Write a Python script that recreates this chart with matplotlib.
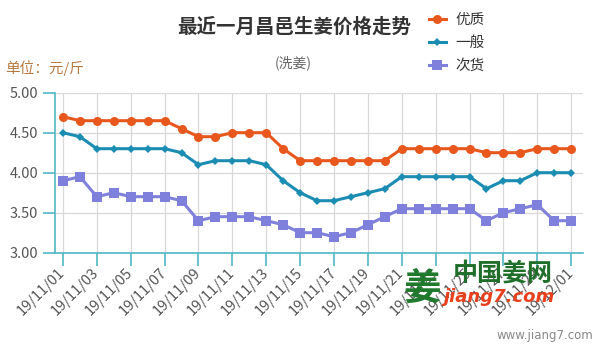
import numpy as np
import pandas as pd
import matplotlib
matplotlib.use('Agg')
import matplotlib.pyplot as plt
from matplotlib.ticker import FormatStrFormatter

plt.rcParams['font.family'] = ['Noto Sans CJK SC', 'DejaVu Sans']

# daily prices, 2019-11-01 .. 2019-12-01 (元/斤)
dates = pd.date_range('2019-11-01', '2019-12-01').strftime('%y/%m/%d').tolist()
top_grade = [4.70, 4.65, 4.65, 4.65, 4.65, 4.65, 4.65, 4.55, 4.45, 4.45,
             4.50, 4.50, 4.50, 4.30, 4.15, 4.15, 4.15, 4.15, 4.15, 4.15,
             4.30, 4.30, 4.30, 4.30, 4.30, 4.25, 4.25, 4.25, 4.30, 4.30, 4.30]
mid_grade = [4.50, 4.45, 4.30, 4.30, 4.30, 4.30, 4.30, 4.25, 4.10, 4.15,
             4.15, 4.15, 4.10, 3.90, 3.75, 3.65, 3.65, 3.70, 3.75, 3.80,
             3.95, 3.95, 3.95, 3.95, 3.95, 3.80, 3.90, 3.90, 4.00, 4.00, 4.00]
low_grade = [3.90, 3.95, 3.70, 3.75, 3.70, 3.70, 3.70, 3.65, 3.40, 3.45,
             3.45, 3.45, 3.40, 3.35, 3.25, 3.25, 3.20, 3.25, 3.35, 3.45,
             3.55, 3.55, 3.55, 3.55, 3.55, 3.40, 3.50, 3.55, 3.60, 3.40, 3.40]

series = [
    ('优质', top_grade, '#e8581c', 'o', 6.5),
    ('一般', mid_grade, '#1b8db3', 'D', 4.5),
    ('次货', low_grade, '#7f80dc', 's', 6.5),
]

AXIS_COLOR = '#4fb6c6'

fig = plt.figure(figsize=(6, 3.5), dpi=100)
ax = fig.add_axes([55 / 600, 1 - 252.7 / 350, 528 / 600, 160 / 350])

x = np.arange(len(dates))
handles = []
for name, vals, color, marker, ms in series:
    h, = ax.plot(x, vals, color=color, lw=2.2, marker=marker, markersize=ms,
                 markeredgewidth=0, label=name, zorder=3)
    handles.append(h)

ax.set_xlim(-0.47, 30.7)
ax.set_ylim(3.0, 5.0)
ax.set_yticks(np.arange(3.0, 5.01, 0.5))
ax.yaxis.set_major_formatter(FormatStrFormatter('%.2f'))
ax.set_xticks(x[::2])
ax.set_xticklabels(dates[::2], rotation=45, ha='right', va='center',
                   rotation_mode='anchor')

ax.grid(True, color='#d8d8d8', lw=0.9, zorder=0)
for side in ['top', 'right']:
    ax.spines[side].set_visible(False)
for side in ['left', 'bottom']:
    ax.spines[side].set_color(AXIS_COLOR)
    ax.spines[side].set_linewidth(1.2)
    ax.spines[side].set_zorder(2)
ax.tick_params(axis='y', colors=AXIS_COLOR, length=9, width=1.2, pad=3,
               labelcolor='#555555', labelsize=10.5)
ax.tick_params(axis='x', colors=AXIS_COLOR, length=9, width=1.2, pad=4,
               labelcolor='#555555', labelsize=10.5)

fig.text(294 / 600, 1 - 27 / 350, '最近一月昌邑生姜价格走势', ha='center',
         va='center', fontsize=14, fontweight='bold', color='#333333')
fig.text(293 / 600, 1 - 63 / 350, '(洗姜)', ha='center', va='center',
         fontsize=10, color='#666666')
fig.text(5 / 600, 1 - 68 / 350, '单位：元/斤', ha='left', va='center',
         fontsize=10.5, color='#b8783f')

leg = fig.legend(handles=handles, loc='upper left',
                 bbox_to_anchor=(423 / 600, 1 - 7 / 350), frameon=False,
                 fontsize=10.5, handlelength=1.15, handletextpad=0.7,
                 labelspacing=0.62, borderaxespad=0)
for t in leg.get_texts():
    t.set_color('#333333')

# site watermark
fig.text(422 / 600, 1 - 288 / 350, '姜', ha='center', va='center',
         fontsize=27, fontweight='bold', color='#1f7a2e', zorder=10)
fig.text(503 / 600, 1 - 274 / 350, '中国姜网', ha='center', va='center',
         fontsize=18, fontweight='bold', color='#1f6f2b', zorder=10)
fig.text(499 / 600, 1 - 297 / 350, 'jiang7.com', ha='center', va='center',
         fontsize=13, fontweight='bold', style='italic', color='#e8401c',
         family='DejaVu Sans', zorder=10)
fig.text(593 / 600, 1 - 335 / 350, 'www.jiang7.com', ha='right', va='center',
         fontsize=8.5, color='#888888', family='DejaVu Sans')

fig.savefig('out.png', dpi=100)
